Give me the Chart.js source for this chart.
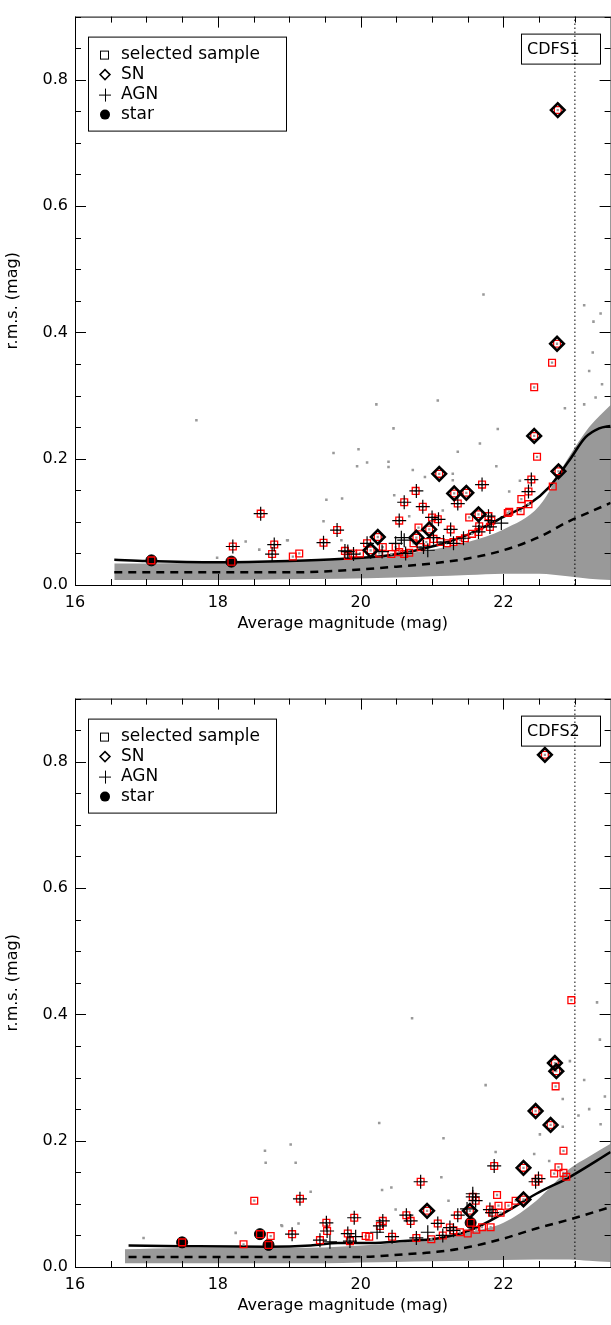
<!DOCTYPE html>
<html>
<head>
<meta charset="utf-8">
<script src="https://cdn.jsdelivr.net/npm/chart.js@4.4.1/dist/chart.umd.min.js"></script>
<style>
  html, body { margin: 0; padding: 0; background: #fff; overflow: hidden; }
  .panel { position: absolute; left: 0; }
</style>
</head>
<body>
<div class="panel" style="top:0px"><canvas id="cdfs1" width="620" height="641"></canvas></div>
<div class="panel" style="top:682px"><canvas id="cdfs2" width="620" height="641"></canvas></div>

<script>
// axis ticks
var xTicks = [16, 18, 20, 22];
var yTicks = [0.0, 0.2, 0.4, 0.6, 0.8];
var magLimit = 23;

// ---------- CDFS1 ----------
var cdfs1Selected = [[17.07,0.039],[18.19,0.037],[18.21,0.061],[18.60,0.113],[18.79,0.064],[18.76,0.049],
  [19.05,0.045],[19.14,0.050],[19.48,0.067],[19.67,0.087],[19.78,0.054],[19.82,0.046],[19.89,0.050],[19.99,0.050],
  [20.09,0.066],[20.14,0.055],[20.24,0.076],[20.26,0.050],[20.31,0.060],[20.43,0.049],[20.49,0.060],[20.54,0.102],
  [20.54,0.052],[20.61,0.131],[20.61,0.049],[20.68,0.051],[20.74,0.066],[20.78,0.075],[20.77,0.149],[20.81,0.091],
  [20.84,0.060],[20.87,0.124],[20.92,0.068],[20.96,0.088],[21.00,0.107],[21.02,0.073],[21.08,0.104],[21.10,0.176],
  [21.12,0.068],[21.21,0.066],[21.26,0.088],[21.30,0.068],[21.31,0.145],[21.36,0.129],[21.39,0.071],[21.46,0.074],
  [21.48,0.146],[21.52,0.107],[21.56,0.081],[21.65,0.112],[21.65,0.084],[21.66,0.093],[21.70,0.159],[21.79,0.109],
  [21.81,0.092],[21.83,0.102],[22.06,0.114],[22.08,0.116],[22.24,0.117],[22.25,0.136],[22.35,0.128],[22.35,0.148],
  [22.39,0.167],[22.43,0.236],[22.43,0.313],[22.47,0.203],[22.68,0.352],[22.69,0.156],[22.75,0.382],[22.76,0.752],
  [22.77,0.180]];
var cdfs1SN = [[22.76,0.752],[22.75,0.382],[22.43,0.236],[22.77,0.180],[21.10,0.176],[21.31,0.145],[21.48,0.146],
  [21.65,0.112],[20.96,0.088],[20.78,0.075],[20.24,0.076],[20.14,0.055]];
var cdfs1AGN = [[18.21,0.061],[18.60,0.113],[18.79,0.064],[18.76,0.049],[19.48,0.067],[19.67,0.087],[19.78,0.054],
  [19.82,0.053],[19.90,0.049],[20.09,0.066],[20.30,0.053],[20.49,0.066],[20.54,0.102],[20.57,0.075],[20.61,0.131],
  [20.61,0.071],[20.63,0.050],[20.78,0.149],[20.87,0.124],[20.88,0.060],[20.94,0.055],[21.00,0.107],[21.02,0.075],
  [21.09,0.104],[21.16,0.068],[21.26,0.088],[21.30,0.066],[21.36,0.129],[21.44,0.074],[21.65,0.084],[21.66,0.093],
  [21.70,0.159],[21.79,0.109],[21.81,0.092],[21.83,0.102],[21.97,0.098],[22.35,0.148],[22.39,0.167]];
var cdfs1Star = [[17.07,0.039],[18.19,0.037]];
var cdfs1Field = [[17.70,0.261],[19.62,0.209],[19.52,0.135],[19.74,0.137],[19.48,0.101],[19.95,0.188],[18.39,0.069],
  [18.58,0.056],[18.97,0.071],[17.99,0.043],[20.46,0.248],[19.97,0.215],[20.09,0.194],[20.39,0.195],[20.39,0.187],
  [20.73,0.182],[20.90,0.171],[21.36,0.211],[21.29,0.166],[21.29,0.176],[20.47,0.142],[20.68,0.109],[21.15,0.118],
  [21.72,0.460],[20.22,0.286],[21.08,0.292],[21.92,0.247],[21.67,0.224],[22.86,0.280],[23.13,0.443],[23.25,0.368],
  [23.36,0.430],[23.26,0.417],[22.23,0.165],[22.08,0.148],[21.90,0.188],[19.73,0.071],[18.98,0.071],[23.20,0.339],
  [23.38,0.318],[23.13,0.286],[23.29,0.297]];
var cdfs1CloudMag = [16.55, 17.0, 18.0, 19.0, 19.7, 20.5, 21.0, 21.5, 22.0, 22.5, 22.9, 23.2, 23.5];
var cdfs1CloudHi  = [0.034, 0.034, 0.036, 0.038, 0.040, 0.048, 0.056, 0.068, 0.088, 0.125, 0.200, 0.250, 0.285];
var cdfs1CloudLo  = [0.008, 0.008, 0.008, 0.009, 0.010, 0.012, 0.014, 0.016, 0.018, 0.018, 0.014, 0.010, 0.008];
var cdfs1SolidMag = [16.55, 17.0, 18.0, 19.0, 19.7, 20.4, 21.07, 21.53, 22.0, 22.37, 22.64, 22.92, 23.15, 23.34, 23.5];
var cdfs1Solid    = [0.040, 0.038, 0.036, 0.038, 0.041, 0.047, 0.063, 0.081, 0.108, 0.129, 0.155, 0.197, 0.234, 0.248, 0.252];
var cdfs1DashMag  = [16.55, 17.0, 18.0, 19.0, 19.68, 20.5, 21.0, 21.5, 22.0, 22.5, 22.9, 23.2, 23.5];
var cdfs1Dashed   = [0.020, 0.020, 0.020, 0.020, 0.0225, 0.029, 0.034, 0.042, 0.055, 0.076, 0.100, 0.115, 0.130];

// ---------- CDFS2 ----------
var cdfs2Selected = [[17.50,0.039],[18.59,0.052],[18.71,0.035],[21.54,0.070],[18.36,0.036],[18.74,0.049],[18.51,0.105],
  [19.04,0.052],[19.15,0.108],[19.43,0.0425],[19.52,0.070],[19.53,0.057],[19.82,0.053],[19.85,0.041],[19.91,0.078],
  [20.07,0.049],[20.12,0.048],[20.27,0.065],[20.31,0.073],[20.44,0.048],[20.64,0.082],[20.70,0.073],[20.78,0.046],
  [20.84,0.135],[20.93,0.089],[20.99,0.044],[21.08,0.069],[21.15,0.050],[21.25,0.0625],[21.30,0.058],[21.36,0.082],
  [21.39,0.055],[21.50,0.053],[21.53,0.089],[21.57,0.111],[21.61,0.105],[21.62,0.059],[21.70,0.063],[21.82,0.063],
  [21.81,0.091],[21.84,0.086],[21.87,0.160],[21.91,0.114],[21.93,0.097],[21.96,0.086],[22.07,0.097],[22.17,0.105],
  [22.28,0.107],[22.28,0.157],[22.45,0.135],[22.49,0.140],[22.45,0.247],[22.66,0.225],[22.71,0.148],[22.72,0.323],
  [22.73,0.286],[22.74,0.310],[22.77,0.158],[22.84,0.184],[22.84,0.149],[22.88,0.143],[22.95,0.4225],[22.58,0.811]];
var cdfs2SN = [[22.58,0.811],[22.72,0.323],[22.74,0.310],[22.45,0.247],[22.66,0.225],[22.28,0.157],[22.28,0.107],
  [20.93,0.089],[21.53,0.089]];
var cdfs2AGN = [[19.15,0.108],[19.04,0.052],[19.43,0.0425],[19.52,0.070],[19.53,0.057],[19.57,0.040],[19.82,0.053],
  [19.85,0.041],[19.91,0.078],[19.93,0.048],[20.23,0.055],[20.27,0.065],[20.31,0.073],[20.44,0.048],[20.64,0.082],
  [20.70,0.073],[20.78,0.046],[20.84,0.135],[20.94,0.055],[21.08,0.069],[21.15,0.050],[21.25,0.0625],[21.30,0.058],
  [21.36,0.082],[21.49,0.092],[21.57,0.116],[21.57,0.111],[21.61,0.105],[21.81,0.091],[21.84,0.086],[21.87,0.160],
  [22.49,0.140],[22.45,0.135]];
var cdfs2Star = [[17.50,0.039],[18.59,0.052],[18.71,0.035],[21.54,0.070]];
var cdfs2Field = [[18.66,0.184],[18.67,0.165],[19.02,0.194],[19.09,0.165],[19.30,0.119],[18.89,0.066],[19.13,0.069],
  [18.25,0.054],[16.96,0.046],[20.26,0.228],[21.16,0.204],[21.13,0.142],[20.30,0.122],[20.43,0.126],[21.23,0.105],
  [20.49,0.091],[18.90,0.065],[20.72,0.394],[21.75,0.288],[22.93,0.326],[22.83,0.266],[22.51,0.210],[22.83,0.222],
  [23.13,0.296],[23.31,0.419],[23.36,0.226],[21.89,0.182],[22.43,0.179],[22.64,0.168],[23.35,0.360],[23.42,0.270],
  [23.20,0.250],[23.05,0.240]];
var cdfs2CloudMag = [16.7, 17.5, 18.5, 19.5, 20.0, 20.5, 21.0, 21.5, 22.0, 22.46, 22.92, 23.2, 23.5];
var cdfs2CloudHi  = [0.028, 0.030, 0.030, 0.031, 0.034, 0.038, 0.045, 0.055, 0.070, 0.105, 0.155, 0.175, 0.195];
var cdfs2CloudLo  = [0.006, 0.006, 0.006, 0.006, 0.007, 0.008, 0.009, 0.010, 0.011, 0.012, 0.012, 0.010, 0.008];
var cdfs2SolidMag = [16.75, 17.5, 18.7, 19.3, 19.68, 20.14, 20.6, 21.07, 21.53, 22.0, 22.46, 22.92, 23.5];
var cdfs2Solid    = [0.034, 0.033, 0.032, 0.034, 0.038, 0.038, 0.041, 0.045, 0.058, 0.085, 0.116, 0.142, 0.182];
var cdfs2DashMag  = [16.75, 18.0, 19.0, 20.0, 20.6, 21.07, 21.53, 22.0, 22.46, 22.92, 23.5];
var cdfs2Dashed   = [0.016, 0.016, 0.016, 0.016, 0.020, 0.024, 0.032, 0.045, 0.061, 0.075, 0.095];

var FONT = "'DejaVu Sans', sans-serif";
var GRAY = '#999999';

function pts(arr) { return arr.map(function (p) { return {x: p[0], y: p[1]}; }); }
function curve(mag, val) { return mag.map(function (m, i) { return {x: m, y: val[i]}; }); }

// frame with inward ticks, legend box and field label
var framePlugin = {
  id: 'frame',
  afterDatasetsDraw: function (chart, args, opts) {
    var ctx = chart.ctx, a = chart.chartArea, xs = chart.scales.x, ys = chart.scales.y;
    ctx.save();
    ctx.strokeStyle = '#000';
    ctx.lineWidth = 1;
    ctx.strokeRect(a.left + 0.5, a.top + 0.5, a.right - a.left, a.bottom - a.top);
    ctx.beginPath();
    for (var i = 0; i <= 15; i++) {
      var px = Math.round(xs.getPixelForValue(16 + i * 0.5)) + 0.5;
      var len = (i % 4 === 0) ? 11 : 6;
      ctx.moveTo(px, a.bottom); ctx.lineTo(px, a.bottom - len);
      ctx.moveTo(px, a.top); ctx.lineTo(px, a.top + len);
    }
    for (var j = 0; j <= 18; j++) {
      var py = Math.round(ys.getPixelForValue(j * 0.05)) + 0.5;
      var l2 = (j % 4 === 0) ? 11 : 6;
      ctx.moveTo(a.left, py); ctx.lineTo(a.left + l2, py);
      ctx.moveTo(a.right, py); ctx.lineTo(a.right - l2, py);
    }
    ctx.stroke();

    // legend
    var lx = a.left + 13, ly = a.top + 20;
    ctx.strokeRect(lx + 0.5, ly + 0.5, opts.legendWidth, 94);
    ctx.font = '17px ' + FONT;
    ctx.fillStyle = '#000';
    ctx.textBaseline = 'middle';
    var sx = lx + 17, tx = lx + 33;
    ctx.strokeRect(sx - 4.5, ly + 14.5, 8, 8);
    ctx.fillText('selected sample', tx, ly + 18);
    ctx.lineWidth = 1.5;
    ctx.beginPath();
    ctx.moveTo(sx - 5, ly + 38); ctx.lineTo(sx, ly + 33); ctx.lineTo(sx + 5, ly + 38); ctx.lineTo(sx, ly + 43); ctx.closePath();
    ctx.stroke();
    ctx.fillText('SN', tx, ly + 38);
    ctx.lineWidth = 1;
    ctx.beginPath();
    ctx.moveTo(sx - 6, ly + 58.5); ctx.lineTo(sx + 6, ly + 58.5);
    ctx.moveTo(sx + 0.5, ly + 52); ctx.lineTo(sx + 0.5, ly + 65);
    ctx.stroke();
    ctx.fillText('AGN', tx, ly + 58);
    ctx.beginPath();
    ctx.arc(sx, ly + 78, 5, 0, Math.PI * 2);
    ctx.fill();
    ctx.fillText('star', tx, ly + 78);

    // field name
    ctx.font = '16px ' + FONT;
    ctx.strokeRect(521.5, a.top + 17.5, 79, 30);
    ctx.fillText(opts.label, 527, a.top + 33);
    ctx.restore();
  }
};

function makePanel(id, label, legendWidth, selected, sn, agn, star, field, cMag, cHi, cLo, sMag, solid, dMag, dashed) {
  var ctx = document.getElementById(id).getContext('2d');
  return new Chart(ctx, {
    type: 'scatter',
    data: {
      datasets: [
        {data: pts(sn), pointStyle: 'rectRot', pointRadius: 6.8, borderWidth: 2.6, borderColor: '#000',
          backgroundColor: 'rgba(0,0,0,0)', order: 1},
        {data: pts(agn), pointStyle: 'cross', pointRadius: 7, borderWidth: 1.2, borderColor: '#000', order: 2},
        {data: pts(selected), pointStyle: 'rect', pointRadius: 4.8, borderWidth: 1.3, borderColor: '#ff0000',
          backgroundColor: 'rgba(0,0,0,0)', order: 3},
        {data: pts(star), pointStyle: 'circle', pointRadius: 5.5, borderWidth: 1, borderColor: '#000',
          backgroundColor: '#000', order: 4},
        {data: pts(selected), pointStyle: 'rect', pointRadius: 1.6, borderWidth: 0, backgroundColor: GRAY, order: 5},
        {type: 'line', data: curve(sMag, solid), borderColor: '#000', borderWidth: 2.5, pointRadius: 0,
          cubicInterpolationMode: 'monotone', fill: false, order: 6},
        {type: 'line', data: curve(dMag, dashed), borderColor: '#000', borderWidth: 2.5, borderDash: [8, 6],
          pointRadius: 0, cubicInterpolationMode: 'monotone', fill: false, order: 7},
        {type: 'line', data: [{x: magLimit, y: 0}, {x: magLimit, y: 0.9}], borderColor: '#000', borderWidth: 1,
          borderDash: [1.5, 2.5], pointRadius: 0, fill: false, order: 8},
        {data: pts(field), pointStyle: 'rect', pointRadius: 1.8, borderWidth: 0, backgroundColor: GRAY, order: 9},
        {type: 'line', data: curve(cMag, cHi), borderWidth: 0, pointRadius: 0, backgroundColor: GRAY,
          cubicInterpolationMode: 'monotone', fill: '+1', order: 10},
        {type: 'line', data: curve(cMag, cLo), borderWidth: 0, pointRadius: 0,
          cubicInterpolationMode: 'monotone', fill: false, order: 11}
      ]
    },
    options: {
      responsive: false,
      animation: false,
      events: [],
      layout: {padding: {top: 12, right: 7, left: 0, bottom: 0}},
      plugins: {
        legend: {display: false},
        tooltip: {enabled: false},
        frame: {label: label, legendWidth: legendWidth}
      },
      scales: {
        x: {
          type: 'linear', min: 16, max: 23.5,
          afterBuildTicks: function (s) { s.ticks = xTicks.map(function (v) { return {value: v}; }); },
          afterFit: function (s) { s.height = 56; },
          grid: {display: false, drawTicks: false},
          border: {display: false},
          ticks: {padding: 8, color: '#000', maxRotation: 0, autoSkip: false, font: {family: FONT, size: 16}},
          title: {display: true, text: 'Average magnitude (mag)', color: '#000', font: {family: FONT, size: 16},
            padding: {top: 0, bottom: 8}}
        },
        y: {
          type: 'linear', min: 0, max: 0.9,
          afterBuildTicks: function (s) { s.ticks = yTicks.map(function (v) { return {value: v}; }); },
          afterFit: function (s) { s.width = 75; },
          grid: {display: false, drawTicks: false},
          border: {display: false},
          ticks: {padding: 7, color: '#000', font: {family: FONT, size: 16},
            callback: function (v) { return Number(v).toFixed(1); }},
          title: {display: true, text: 'r.m.s. (mag)', color: '#000', font: {family: FONT, size: 16},
            padding: {top: 3, bottom: 0}}
        }
      }
    },
    plugins: [framePlugin]
  });
}

makePanel('cdfs1', 'CDFS1', 198, cdfs1Selected, cdfs1SN, cdfs1AGN, cdfs1Star, cdfs1Field,
  cdfs1CloudMag, cdfs1CloudHi, cdfs1CloudLo, cdfs1SolidMag, cdfs1Solid, cdfs1DashMag, cdfs1Dashed);
makePanel('cdfs2', 'CDFS2', 188, cdfs2Selected, cdfs2SN, cdfs2AGN, cdfs2Star, cdfs2Field,
  cdfs2CloudMag, cdfs2CloudHi, cdfs2CloudLo, cdfs2SolidMag, cdfs2Solid, cdfs2DashMag, cdfs2Dashed);
</script>
</body>
</html>
